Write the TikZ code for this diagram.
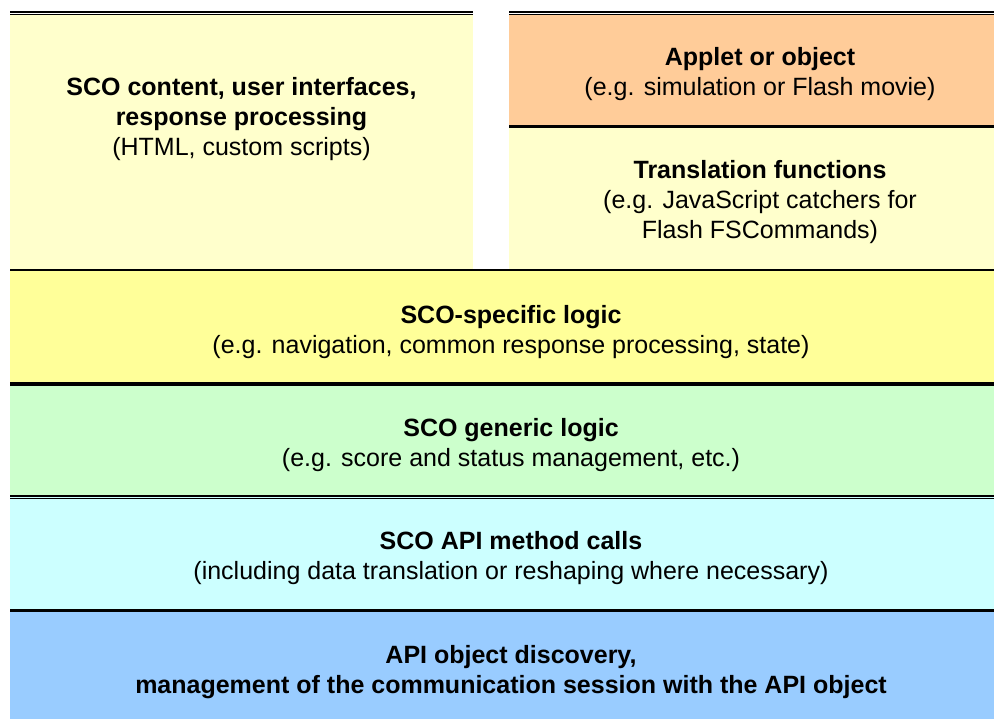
\documentclass[tikz,border=0pt]{standalone}
\usepackage{fontspec}
\setmainfont{Liberation Sans}
\definecolor{paleyellow}{HTML}{FFFFCC}
\definecolor{peach}{HTML}{FFCC99}
\definecolor{yellowband}{HTML}{FFFF99}
\definecolor{greenband}{HTML}{CCFFCC}
\definecolor{cyanband}{HTML}{CCFFFF}
\definecolor{blueband}{HTML}{99CCFF}
\tikzset{
  lbl/.style={align=center, inner sep=0pt, font=\fontsize{25}{30}\selectfont},
  rule/.style={draw=black, line width=#1},
}
\begin{document}
\begin{tikzpicture}[x=1pt,y=-1pt]
\useasboundingbox (0,0) rectangle (994,719);
% fills
\fill[paleyellow] (10,15) rectangle (473,270);
\fill[peach] (509,15) rectangle (994,126);
\fill[paleyellow] (509,126) rectangle (994,270);
\fill[yellowband] (10,270) rectangle (994,384);
\fill[greenband] (10,384) rectangle (994,497);
\fill[cyanband] (10,497) rectangle (994,610.5);
\fill[blueband] (10,610.5) rectangle (994,719);
% rules
\draw[rule=1.8pt] (10,12.2) -- (473,12.2);
\draw[rule=1.1pt] (10,14.6) -- (473,14.6);
\draw[rule=1.8pt] (509,12.2) -- (994,12.2);
\draw[rule=1.1pt] (509,14.6) -- (994,14.6);
\draw[rule=3pt] (509,126.5) -- (994,126.5);
\draw[rule=2.6pt] (10,270) -- (994,270);
\draw[rule=4pt] (10,384) -- (994,384);
\draw[rule=2pt] (10,496) -- (994,496);
\draw[rule=1.1pt] (10,498.7) -- (994,498.7);
\draw[rule=3pt] (10,610.5) -- (994,610.5);
% texts
\node[lbl] (content) at (241.5,119.5) {\textbf{SCO content, user interfaces,}\\\textbf{response processing}\\(HTML, custom scripts)};
\node[lbl] (applet) at (760,74) {\textbf{Applet or object}\\(e.g. simulation or Flash movie)};
\node[lbl] (transl) at (760,202.5) {\textbf{Translation functions}\\(e.g. JavaScript catchers for\\Flash FSCommands)};
\node[lbl] (specific) at (511,332) {\textbf{SCO-specific logic}\\(e.g. navigation, common response processing, state)};
\node[lbl] (generic) at (511,445) {\textbf{SCO generic logic}\\(e.g. score and status management, etc.)};
\node[lbl] (apicalls) at (511,558.5) {\textbf{SCO API method calls}\\(including data translation or reshaping where necessary)};
\node[lbl] (discovery) at (511,672.5) {\textbf{API object discovery,}\\\textbf{management of the communication session with the API object}};
\end{tikzpicture}
\end{document}
